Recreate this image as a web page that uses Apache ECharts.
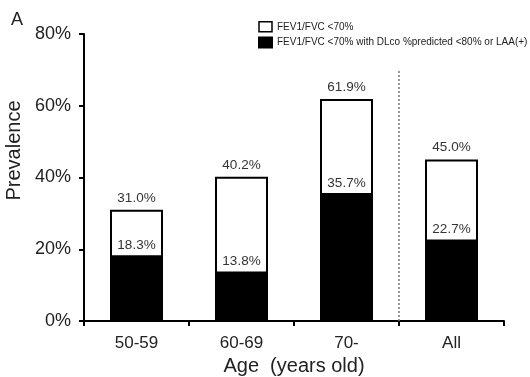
<!DOCTYPE html>
<html><head><meta charset="utf-8">
<script src="https://cdn.jsdelivr.net/npm/echarts@6/dist/echarts.min.js"></script>
<style>html,body{margin:0;padding:0;background:#fff}#c{width:530px;height:377px}</style>
</head><body><div id="c"></div>
<script>
const categories = ['50-59', '60-69', '70-', 'All'];
const totalValues = [31.0, 40.2, 61.9, 45.0];
const subsetValues = [18.3, 13.8, 35.7, 22.7];
const yTicks = [0, 20, 40, 60, 80];
const seriesNames = ['FEV1/FVC <70%', 'FEV1/FVC <70% with DLco %predicted <80% or LAA(+)'];
const dividerPosition = 3;
const dividerTop = 70;

const font = 'Liberation Sans, Arial, sans-serif';
const chart = echarts.init(document.getElementById('c'));
chart.setOption({
  animation: false,
  textStyle: { fontFamily: font },
  title: { text: 'A', left: 6, top: 6, textStyle: { fontSize: 18, fontWeight: 'normal', color: '#222', fontFamily: font } },
  legend: {
    orient: 'vertical', left: 253, top: 16, itemGap: 4, itemWidth: 13, itemHeight: 10,
    textStyle: { fontSize: 10, color: '#222', fontFamily: font },
    data: [
      { name: seriesNames[0], icon: 'rect', itemStyle: { color: '#fff', borderColor: '#000', borderWidth: 1.5 } },
      { name: seriesNames[1], icon: 'rect', itemStyle: { color: '#000' } }
    ]
  },
  grid: { left: 84, right: 26, top: 34, bottom: 56, containLabel: false, outerBoundsMode: 'none' },
  xAxis: [{
    type: 'category', data: categories,
    axisLine: { lineStyle: { color: '#000', width: 2 } },
    axisTick: { show: true, length: 5, lineStyle: { color: '#000', width: 2 } },
    axisLabel: { fontSize: 17, color: '#222', margin: 14, fontFamily: font },
    name: 'Age  (years old)', nameLocation: 'middle', nameGap: 33,
    nameTextStyle: { fontSize: 20, color: '#222', fontFamily: font }
  }, {
    type: 'value', min: 0, max: categories.length, show: false
  }],
  yAxis: {
    type: 'value', min: 0, max: 80, interval: 20,
    axisLine: { show: true, lineStyle: { color: '#000', width: 2 } },
    axisTick: { show: true, length: 5, lineStyle: { color: '#000', width: 2 } },
    splitLine: { show: false },
    axisLabel: { fontSize: 18, color: '#222', margin: 13, formatter: v => yTicks.includes(v) ? v + '%' : '', fontFamily: font },
    name: 'Prevalence', nameLocation: 'middle', nameGap: 57, nameRotate: 90,
    nameTextStyle: { fontSize: 20, color: '#222', fontFamily: font, padding: [0, 0, 0, 54] }
  },
  series: [
    {
      name: seriesNames[0], type: 'bar', data: totalValues, barWidth: 53, barGap: '-100%',
      itemStyle: { color: '#fff', borderColor: '#000', borderWidth: 2 },
      label: { show: true, position: 'top', distance: 5, formatter: p => p.value.toFixed(1) + '%', fontSize: 13.5, color: '#333', fontFamily: font }
    },
    {
      name: seriesNames[1], type: 'bar', data: subsetValues, barWidth: 53, barGap: '-100%',
      itemStyle: { color: '#000', borderColor: '#000', borderWidth: 2 },
      label: { show: true, position: 'top', distance: 3, formatter: p => p.value.toFixed(1) + '%', fontSize: 13.5, color: '#333', fontFamily: font },
      z: 3
    },
    {
      type: 'scatter', xAxisIndex: 1, data: [], silent: true,
      markLine: {
        symbol: 'none', silent: true, label: { show: false },
        lineStyle: { type: [2, 2], color: '#777', width: 1.5 },
        data: [[{ coord: [dividerPosition, 0] }, { coord: [dividerPosition, dividerTop] }]]
      }
    }
  ]
});
</script></body></html>
